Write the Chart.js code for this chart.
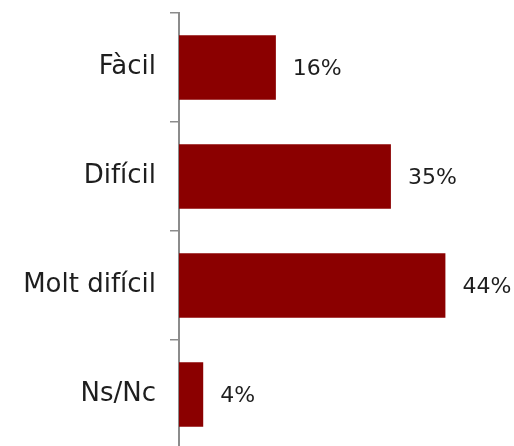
<!DOCTYPE html>
<html>
<head>
<meta charset="utf-8">
<script src="https://cdn.jsdelivr.net/npm/chart.js@4/dist/chart.umd.min.js"></script>
<style>
html,body{margin:0;padding:0;background:#fff;overflow:hidden;}
#wrap{position:relative;width:514px;height:449px;}
</style>
</head>
<body>
<div id="wrap"><canvas id="c"></canvas></div>
<script>
const categories = ["Fàcil", "Difícil", "Molt difícil", "Ns/Nc"];
const values = [16, 35, 44, 4];
const valueLabels = ["16%", "35%", "44%", "4%"];

const FONT = "'DejaVu Sans', sans-serif";

const valueLabelPlugin = {
  id: 'valueLabels',
  afterDatasetsDraw(chart) {
    const ctx = chart.ctx;
    const meta = chart.getDatasetMeta(0);
    ctx.save();
    ctx.font = "22px " + FONT;
    ctx.fillStyle = "#1e1e1e";
    ctx.textAlign = "left";
    ctx.textBaseline = "middle";
    meta.data.forEach((bar, i) => {
      ctx.fillText(valueLabels[i], bar.x + 17, bar.y + 2);
    });
    ctx.restore();
  }
};

new Chart(document.getElementById('c'), {
  type: 'bar',
  data: {
    labels: categories,
    datasets: [{
      data: values,
      backgroundColor: '#8B0000',
      borderWidth: 0,
      categoryPercentage: 1,
      barPercentage: 0.59
    }]
  },
  options: {
    indexAxis: 'y',
    responsive: true,
    maintainAspectRatio: false,
    animation: false,
    layout: { padding: { top: 13, right: 2, bottom: 0, left: 0 } },
    plugins: { legend: { display: false }, tooltip: { enabled: false } },
    scales: {
      x: {
        display: false,
        min: 0,
        max: 55
      },
      y: {
        afterFit(scale) {
          scale.width = 179;
          scale.paddingTop = 0;
          scale.paddingBottom = 0;
        },
        grid: {
          display: true,
          drawOnChartArea: false,
          drawTicks: true,
          tickLength: 9,
          offset: true,
          color: '#8c8c8c',
          lineWidth: 1.5
        },
        border: { display: true, color: '#8c8c8c', width: 2 },
        ticks: {
          color: '#1e1e1e',
          padding: 14,
          font: { family: FONT, size: 26 }
        }
      }
    }
  },
  plugins: [valueLabelPlugin]
});
</script>
</body>
</html>
